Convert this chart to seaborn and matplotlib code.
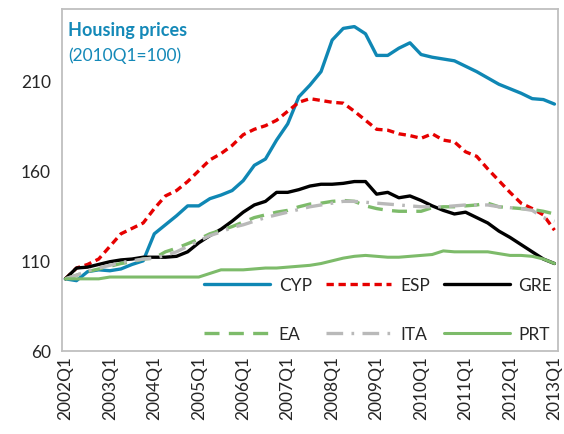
import numpy as np
import pandas as pd
import seaborn as sns
from matplotlib import pyplot as plt

# quarters 2002Q1 .. 2013Q1
quarters = [f"{y}Q{q}" for y in range(2002, 2014) for q in range(1, 5)][:45]

cyp = [100, 99, 104, 105, 104.5, 105.5, 108, 110, 125, 130, 135, 140.5, 140.5, 144.5, 146.5, 149,
       154.5, 163, 166.5, 177, 186, 201, 207.5, 215, 232.5, 239, 240, 236, 224, 224, 228, 231,
       224.5, 223, 222, 221, 218, 215, 211.5, 208, 205.5, 203, 200, 199.5, 197]
esp = [100, 106, 108, 111, 118, 125, 128, 131, 139, 146, 149, 154, 160, 166, 169.5, 174,
       180, 183, 185, 188, 193, 198, 200, 199, 198, 197.5, 193, 188, 183, 182.5, 180.5, 179.5,
       178, 180.5, 177, 176, 170.5, 168, 161, 154.5, 148, 142, 139, 135.5, 127]
gre = [100, 106, 106.5, 108, 109.5, 110.5, 111, 112, 112, 112, 112.5, 115, 120, 124, 127.5, 132,
       137, 141, 143, 148, 148, 149.5, 151.5, 152.5, 152.5, 153, 154, 154, 147, 148, 145, 146,
       143.5, 140.5, 138, 136, 137, 134, 131, 126.5, 123, 119, 115, 111, 108.5]
ea = [100, 102, 104, 105.5, 107, 108.5, 109.5, 111, 111.5, 115, 117, 119.5, 122, 125, 127, 129,
      131.5, 134, 135.5, 137, 138, 140, 141.5, 142, 143, 143.5, 143, 140.5, 139, 138, 137.5, 137.5,
      137.5, 139.5, 140, 140, 140.5, 141, 142, 140, 139.5, 139, 138.5, 137.5, 136]
ita = [100, 102, 104.5, 106, 107.5, 109, 110, 111, 111.5, 113, 115, 118, 121, 124, 126, 128.5,
       130, 132, 134, 135.5, 137, 138.5, 140, 141, 142, 143, 143, 142.5, 142, 141.5, 141, 140.5,
       140, 140, 140, 140.5, 141, 141, 141, 140, 139.5, 139, 138, 134, 132]
prt = [100, 100, 100, 100, 101, 101, 101, 101, 101, 101, 101, 101, 101, 103, 105, 105,
       105, 105.5, 106, 106, 106.5, 107, 107.5, 108.5, 110, 111.5, 112.5, 113, 112.5, 112, 112, 112.5,
       113, 113.5, 115.5, 115, 115, 115, 115, 114, 113, 113, 112.5, 111, 108.5]

series = {"CYP": cyp, "ESP": esp, "GRE": gre, "EA": ea, "ITA": ita, "PRT": prt}

df = pd.DataFrame(series)
df["t"] = np.arange(len(quarters))
long = df.melt(id_vars="t", var_name="country", value_name="index")

styles = {
    "CYP": dict(color="#0F87B4", linestyle="-", lw=2.4),
    "ESP": dict(color="#E60000", linestyle=(0, (2.2, 1.4)), lw=2.4),
    "GRE": dict(color="black", linestyle="-", lw=2.4),
    "EA": dict(color="#7DBB6A", linestyle=(0, (4.5, 2.8)), lw=2.4),
    "ITA": dict(color="#B9B9B9", linestyle=(0, (5, 2.5, 0.8, 2.5)), lw=2.4),
    "PRT": dict(color="#7DBB6A", linestyle="-", lw=2.2),
}

sns.set_style("white")
plt.rcParams["font.family"] = ["Lato", "DejaVu Sans"]

fig = plt.figure(figsize=(5.64, 4.35), dpi=100)
ax = fig.add_axes([0.110, 0.191, 0.879, 0.787])

for name in series:
    sub = long[long["country"] == name]
    sns.lineplot(data=sub, x="t", y="index", ax=ax, label=name, **styles[name])

ax.set_xlim(-0.3, len(quarters) - 0.7)
ax.set_ylim(60, 250)
ax.set_yticks([60, 110, 160, 210])
ax.set_xticks(np.arange(0, len(quarters), 4))
ax.set_xticklabels(quarters[::4], rotation=90)
ax.set_xticks(np.arange(0.5, len(quarters) - 1, 1), minor=True)
ax.set_xlabel("")
ax.set_ylabel("")
ax.tick_params(axis="y", direction="out", length=4, color="#A6A6A6", width=1,
               labelsize=12.5, pad=4)
ax.tick_params(axis="x", which="both", direction="in", length=4, color="#A6A6A6",
               width=1, labelsize=12.5, pad=3)
for s in ax.spines.values():
    s.set_color("#BFBFBF")
    s.set_linewidth(1.3)

ax.text(0.012, 0.965, "Housing prices", transform=ax.transAxes, color="#1489B8",
        fontsize=13, fontweight="bold", va="top")
ax.text(0.012, 0.89, "(2010Q1=100)", transform=ax.transAxes, color="#1489B8",
        fontsize=12.5, va="top")

# legend filled row by row: CYP ESP GRE / EA ITA PRT
handles, labels = ax.get_legend_handles_labels()
lookup = dict(zip(labels, handles))
order = ["CYP", "EA", "ESP", "ITA", "GRE", "PRT"]
ax.legend([lookup[k] for k in order], order, ncol=3, loc="lower right",
          bbox_to_anchor=(1.02, -0.02), frameon=False,
          fontsize=12.5, handlelength=3.8, handletextpad=0.5, columnspacing=0.8,
          labelspacing=1.9)

fig.savefig("out.png", dpi=100)
plt.close()
